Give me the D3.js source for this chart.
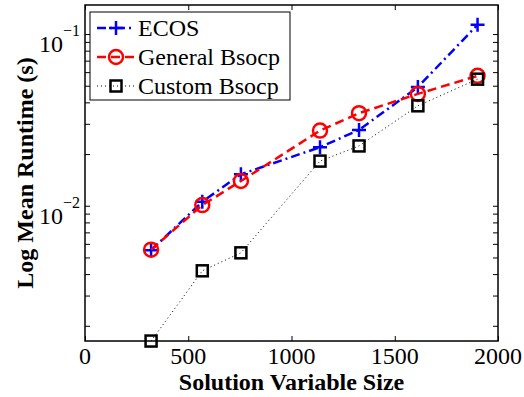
<!DOCTYPE html>
<html>
<head>
<meta charset="utf-8">
<script src="https://cdn.jsdelivr.net/npm/d3@7"></script>
<style>
  html, body { margin: 0; padding: 0; background: #fff; }
  svg { display: block; }
</style>
</head>
<body>
<div id="chart"></div>
<script>
// data
const sizes = [320, 568, 755, 1138, 1327, 1612, 1901]
const ecos = [0.00551, 0.01055, 0.01525, 0.02192, 0.02765, 0.0491, 0.1133]
const generalBsocp = [0.00555, 0.01009, 0.01393, 0.0274, 0.0346, 0.0448, 0.0571]
const customBsocp = [0.00163, 0.00418, 0.00532, 0.0182, 0.0223, 0.0382, 0.0546]
const xTicks = [0, 500, 1000, 1500, 2000]
const yMajor = [-2, -1]
const seriesNames = ['ECOS', 'General Bsocp', 'Custom Bsocp']

const width = 524, height = 397
const plotLeft = 85, plotRight = 498, plotTop = 5, plotBottom = 341

const svg = d3.select('#chart').append('svg')
  .attr('width', width)
  .attr('height', height)
  .attr('font-family', 'Liberation Serif')

const x = d3.scaleLinear().domain([0, 2000]).range([plotLeft, plotRight])
const y = d3.scaleLog().domain([0.001631, 0.1476]).range([plotBottom, plotTop])

const series = [
  { name: seriesNames[0], values: ecos, color: '#0000ff', dash: '9,4,2,4', width: 2.5, marker: 'plus' },
  { name: seriesNames[1], values: generalBsocp, color: '#ff0000', dash: '9,5', width: 2.5, marker: 'circle' },
  { name: seriesNames[2], values: customBsocp, color: '#000000', dash: '1,3', width: 1, marker: 'square' }
]

// axes (MATLAB style, inward ticks, boxed)
const tickLen = 5
const yTickVals = y.ticks()

const axisG = svg.append('g').attr('class', 'axes')

axisG.append('g')
  .attr('transform', `translate(0,${plotBottom})`)
  .call(d3.axisBottom(x).tickValues(xTicks).tickSize(-tickLen).tickFormat(''))
axisG.append('g')
  .attr('transform', `translate(0,${plotTop})`)
  .call(d3.axisTop(x).tickValues(xTicks).tickSize(-tickLen).tickFormat(''))
axisG.append('g')
  .attr('transform', `translate(${plotLeft},0)`)
  .call(d3.axisLeft(y).tickValues(yTickVals).tickSize(-tickLen).tickFormat(''))
axisG.append('g')
  .attr('transform', `translate(${plotRight},0)`)
  .call(d3.axisRight(y).tickValues(yTickVals).tickSize(-tickLen).tickFormat(''))

axisG.selectAll('.domain').remove()
axisG.selectAll('.tick line').attr('stroke', '#000').attr('stroke-width', 1)

axisG.append('rect')
  .attr('x', plotLeft).attr('y', plotTop)
  .attr('width', plotRight - plotLeft).attr('height', plotBottom - plotTop)
  .attr('fill', 'none').attr('stroke', '#000').attr('stroke-width', 1.5)

// x tick labels
svg.append('g').selectAll('text')
  .data(xTicks)
  .join('text')
  .attr('x', d => x(d))
  .attr('y', 364)
  .attr('text-anchor', 'middle')
  .attr('font-size', '24px')
  .text(d => d)

// y tick labels 10^n
const yLab = svg.append('g').selectAll('text')
  .data(yMajor)
  .join('text')
  .attr('x', 80)
  .attr('y', d => y(Math.pow(10, d)) + 18)
  .attr('text-anchor', 'end')
  .attr('font-size', '24px')
yLab.append('tspan').text('10')
yLab.append('tspan')
  .attr('dy', -16)
  .attr('font-size', '16px')
  .text(d => '\u2212' + Math.abs(d))

// axis titles
svg.append('text')
  .attr('x', (plotLeft + plotRight) / 2)
  .attr('y', 390)
  .attr('text-anchor', 'middle')
  .attr('font-size', '24px')
  .attr('font-weight', 'bold')
  .text('Solution Variable Size')

svg.append('text')
  .attr('transform', `translate(33,${(plotTop + plotBottom) / 2}) rotate(-90)`)
  .attr('text-anchor', 'middle')
  .attr('font-size', '24px')
  .attr('font-weight', 'bold')
  .text('Log Mean Runtime (s)')

// markers
function drawMarker(g, type, color) {
  if (type === 'plus') {
    g.append('path').attr('d', 'M-7,0H7M0,-7V7')
      .attr('stroke', color).attr('stroke-width', 2.5).attr('fill', 'none')
  } else if (type === 'circle') {
    g.append('circle').attr('r', 7)
      .attr('stroke', color).attr('stroke-width', 2.5).attr('fill', 'none')
  } else {
    g.append('rect').attr('x', -5.5).attr('y', -5.5).attr('width', 11).attr('height', 11)
      .attr('stroke', color).attr('stroke-width', 2.5).attr('fill', 'none')
  }
}

const line = d3.line().x(d => x(d[0])).y(d => y(d[1]))

const plot = svg.append('g')
series.forEach(s => {
  const pts = sizes.map((v, i) => [v, s.values[i]])
  plot.append('path')
    .datum(pts)
    .attr('d', line)
    .attr('fill', 'none')
    .attr('stroke', s.color)
    .attr('stroke-width', s.width)
    .attr('stroke-dasharray', s.dash)
  pts.forEach(p => {
    const g = plot.append('g').attr('transform', `translate(${x(p[0])},${y(p[1])})`)
    drawMarker(g, s.marker, s.color)
  })
})

// legend
const legend = svg.append('g')
legend.append('rect')
  .attr('x', 90).attr('y', 12).attr('width', 200).attr('height', 88)
  .attr('fill', '#fff').attr('stroke', '#000').attr('stroke-width', 1)

series.forEach((s, i) => {
  const ly = 28 + i * 29
  legend.append('line')
    .attr('x1', 97).attr('x2', 135).attr('y1', ly).attr('y2', ly)
    .attr('stroke', s.color).attr('stroke-width', s.width)
    .attr('stroke-dasharray', s.dash)
  drawMarker(legend.append('g').attr('transform', `translate(116,${ly})`), s.marker, s.color)
  legend.append('text')
    .attr('x', 138).attr('y', ly + 8)
    .attr('font-size', '24px')
    .text(s.name)
})
</script>
</body>
</html>
